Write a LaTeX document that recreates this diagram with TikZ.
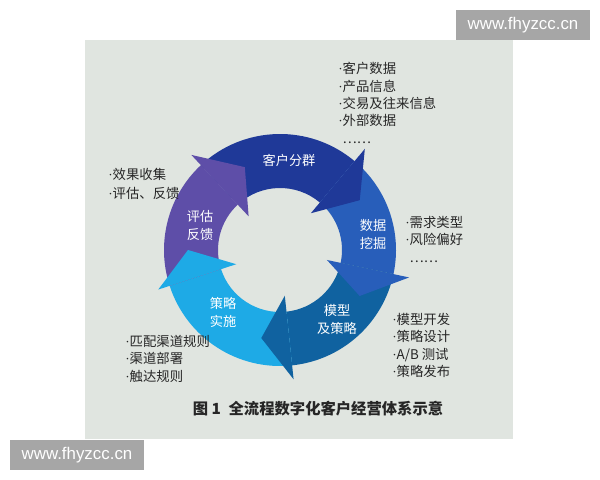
\documentclass[tikz,border=0pt]{standalone}
\usepackage{fontspec}
\setmainfont{Noto Sans CJK SC}
\newfontfamily\wmfont{Liberation Sans}
\newfontfamily\dotfont{Liberation Serif}
\newcommand{\bul}{{\dotfont ·}}
\usetikzlibrary{calc,positioning}
\definecolor{panel}{RGB}{224,229,224}
\definecolor{wmgray}{RGB}{166,166,166}
\definecolor{kfq}{RGB}{31,57,152}
\definecolor{sjwj}{RGB}{40,94,186}
\definecolor{mxcl}{RGB}{16,98,160}
\definecolor{clss}{RGB}{30,170,230}
\definecolor{pgfk}{RGB}{94,78,168}
\begin{document}
\begin{tikzpicture}[x=0.025cm,y=0.025cm,
  item/.style={anchor=north west,align=left,inner sep=0pt,text=black!85,font=\fontsize{9.5}{12.4}\selectfont},
  lbl/.style={align=center,inner sep=0pt,text=white,font=\fontsize{9.4}{12.8}\selectfont},
  wm/.style={fill=wmgray,text=white,font=\wmfont\fontsize{12}{14}\selectfont,minimum width=3.35cm,minimum height=0.75cm,inner sep=0pt}]
  \useasboundingbox (0,0) rectangle (600,480);
  \fill[white] (0,0) rectangle (600,480);
  \fill[panel] (85,41) rectangle (513,440);
  \coordinate (o) at (280,230);

  \fill[kfq,shift={(o)}] (133:116) arc[start angle=133,end angle=50,radius=116] -- (50:62) arc[start angle=50,end angle=133,radius=62] -- cycle;
  \fill[sjwj,shift={(o)}] (50:116) arc[start angle=50,end angle=-12,radius=116] -- (-12:62) arc[start angle=-12,end angle=50,radius=62] -- cycle;
  \fill[mxcl,shift={(o)}] (-12:116) arc[start angle=-12,end angle=-84,radius=116] -- (-84:62) arc[start angle=-84,end angle=-12,radius=62] -- cycle;
  \fill[clss,shift={(o)}] (-84:116) arc[start angle=-84,end angle=-162,radius=116] -- (-162:62) arc[start angle=-162,end angle=-84,radius=62] -- cycle;
  \fill[pgfk,shift={(o)}] (-162:116) arc[start angle=-162,end angle=-227,radius=116] -- (-227:62) arc[start angle=-227,end angle=-162,radius=62] -- cycle;

  \fill[kfq,shift={(o)}] (50:48) -- (50:132) -- (32:94) -- cycle;
  \fill[sjwj,shift={(o)}] (-12:48) -- (-12:132) -- (-30:92) -- cycle;
  \fill[mxcl,shift={(o)}] (-84:46) -- (-84:130) -- (-102:90) -- cycle;
  \fill[clss,shift={(o)}] (-162:46) -- (-162:128) -- (-180:92) -- cycle;
  \fill[pgfk,shift={(o)}] (-227:46) -- (-227:130) -- (-247:90) -- cycle;

  \node[lbl] (a1) at (289,320) {客户分群};
  \node[lbl] (a2) at (373,246) {数据\\挖掘};
  \node[lbl] (a3) at (337,161) {模型\\及策略};
  \node[lbl] (a4) at (223,168) {策略\\实施};
  \node[lbl] (a5) at (200,254) {评估\\反馈};

  \node[item] (b1) at (338,418) {\bul 客户数据\\\bul 产品信息\\\bul 交易及往来信息\\\bul 外部数据\\\hphantom{\bul}……};
  \node[item] (b2) at (405,264) {\bul 需求类型\\\bul 风险偏好\\\hphantom{\bul}……};
  \node[item] (b3) at (392,167) {\bul 模型开发\\\bul 策略设计\\\bul A/B 测试\\\bul 策略发布};
  \node[item] (b4) at (125,145) {\bul 匹配渠道规则\\\bul 渠道部署\\\bul 触达规则};
  \node[item,font=\fontsize{9.5}{13.4}\selectfont] (b5) at (108,312) {\bul 效果收集\\\bul 评估、反馈};

  \node[font=\bfseries\fontsize{10.9}{13}\selectfont,text=black!85] (c1) at (318,71) {图 1\enspace 全流程数字化客户经营体系示意};

  \node[wm] (w1) at (523,455) {www.fhyzcc.cn};
  \node[wm] (w2) at (77,25) {www.fhyzcc.cn};
\end{tikzpicture}
\end{document}
